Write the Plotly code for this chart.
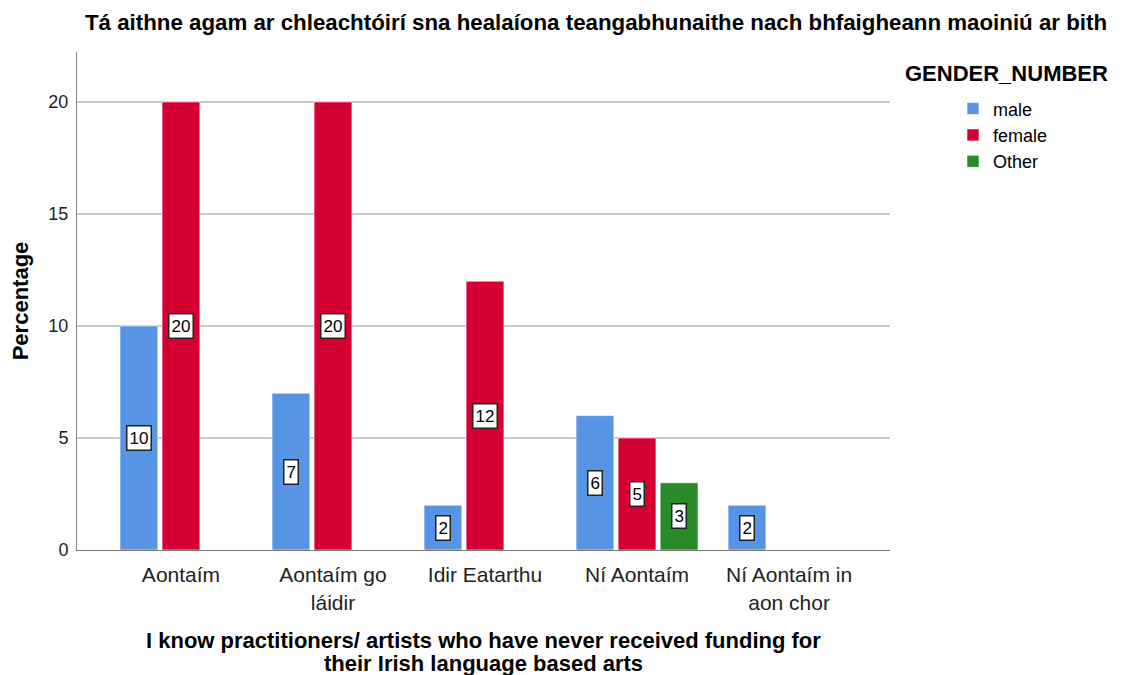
import plotly.graph_objects as go

categories = ["Aontaím", "Aontaím go<br>láidir", "Idir Eatarthu", "Ní Aontaím", "Ní Aontaím in<br>aon chor"]
male = [10, 7, 2, 6, 2]
female = [20, 20, 12, 5, None]
other = [None, None, None, 3, None]

series = [
    ("male", male, "#5795e4", -42),
    ("female", female, "#d50032", 0),
    ("Other", other, "#2a8a2a", 42),
]

FONT = "Liberation Sans, Arial, sans-serif"

fig = go.Figure()
for name, vals, color, shift in series:
    fig.add_trace(go.Bar(
        x=categories,
        y=vals,
        name=name,
        marker=dict(color=color, line=dict(color="rgba(255,255,255,0.6)", width=1)),
    ))

# boxed value labels in the middle of each bar
for name, vals, color, shift in series:
    for cat, v in zip(categories, vals):
        if v is None:
            continue
        fig.add_annotation(
            x=cat, y=v / 2, xshift=shift, text=str(v), showarrow=False,
            font=dict(family=FONT, size=17, color="black"),
            bgcolor="white", bordercolor="#222222", borderwidth=1.5, borderpad=2,
        )

# x axis title, two lines
for txt, yy in [("I know practitioners/ artists who have never received funding for", -0.182),
                ("their Irish language based arts", -0.228)]:
    fig.add_annotation(
        text="<b>" + txt + "</b>",
        xref="paper", yref="paper", x=0.5, y=yy, yanchor="middle", showarrow=False,
        font=dict(family=FONT, size=22, color="black"),
    )
fig.add_annotation(
    text="<b>GENDER_NUMBER</b>",
    xref="paper", yref="paper", x=1.016, y=0.957, xanchor="left", yanchor="middle",
    showarrow=False, font=dict(family=FONT, size=22, color="black"),
)

fig.update_layout(
    width=1123, height=675,
    margin=dict(l=69, r=241, t=44, b=133),
    paper_bgcolor="white", plot_bgcolor="white",
    title=dict(
        text="<b>Tá aithne agam ar chleachtóirí sna healaíona teangabhunaithe nach bhfaigheann maoiniú ar bith</b>",
        x=0.5236, xanchor="center", y=0.979, yanchor="middle",
        font=dict(family=FONT, size=22.3, color="black"),
    ),
    barmode="group", bargap=0.17, bargroupgap=0.1,
    font=dict(family=FONT, color="black"),
    legend=dict(
        x=1.0775, y=0.923, xanchor="left", yanchor="top",
        font=dict(family=FONT, size=18, color="black"),
        itemwidth=30, tracegroupgap=0,
    ),
    xaxis=dict(
        range=[-0.684, 4.664], showline=True, linecolor="#777777", linewidth=1,
        ticks="", tickfont=dict(family=FONT, size=21, color="#222222"),
        ticklabelstandoff=6,
        showgrid=False, zeroline=False,
    ),
    yaxis=dict(
        range=[0, 22.23], tickvals=[0, 5, 10, 15, 20],
        showline=True, linecolor="#888888", linewidth=1,
        gridcolor="#c8c8c8", gridwidth=1.5, zeroline=False,
        ticks="", tickfont=dict(family=FONT, size=18, color="#222222"),
        ticklabelstandoff=4, automargin=False,
        title=dict(text="<b>Percentage</b>", font=dict(family=FONT, size=22, color="black"), standoff=16),
    ),
)

fig.write_html("out.html")
